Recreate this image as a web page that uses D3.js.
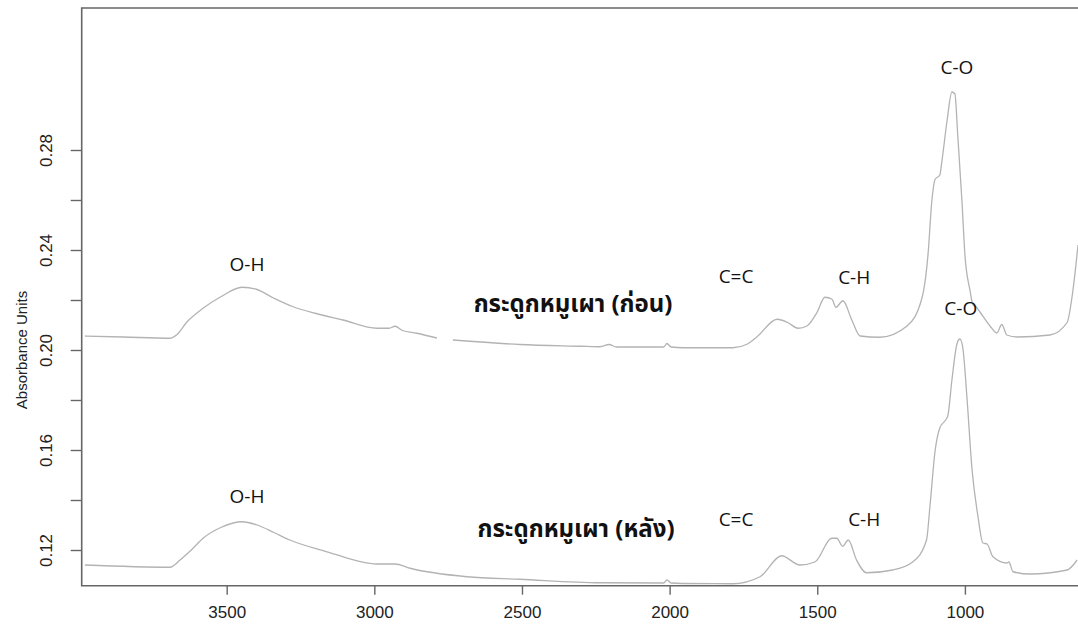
<!DOCTYPE html>
<meta charset="utf-8">
<html>
  <head>
    <style>
     body { margin: 0; background: #fff; }
     .axis path, .axis line { stroke: #666; stroke-width: 1.4px; }
     .axis text { font-family: "Liberation Sans", Arial, sans-serif; font-size: 17px; fill: #222; }
     text.ylab { font-family: "Liberation Sans", Arial, sans-serif; font-size: 15px; fill: #222; }
     path.spec { fill: none; stroke: #b3b3b3; stroke-width: 1.3px; }
     text.peak { font-family: "Open Sans", "Noto Sans", sans-serif; font-size: 19px; fill: #111; }
     text.sample { font-family: "Noto Sans Thai", "Noto Sans Thai UI", "Loma", "Garuda", "Noto Sans", sans-serif; font-size: 24px; font-weight: bold; fill: #111; }
    </style>
    <script src="https://d3js.org/d3.v7.min.js"></script>
  </head>
  <body>
    <div id="chart"></div>
    <script type="text/javascript">
     // spectrum before firing: [wavenumber, absorbance]; null marks the small gap in the trace
     var spectrumBefore = [
       [3980, 0.2056], [3850, 0.2052], [3692, 0.2047], [3670, 0.2060], [3634, 0.2113],
       [3580, 0.2167], [3520, 0.2213], [3448, 0.2251], [3400, 0.2243], [3340, 0.2207],
       [3275, 0.2173], [3200, 0.2147], [3106, 0.2120], [2991, 0.2087], [2950, 0.2087],
       [2930, 0.2095], [2905, 0.2078], [2856, 0.2067], [2788, 0.2048],
       null,
       [2734, 0.2040], [2507, 0.2022], [2300, 0.2015], [2236, 0.2013], [2205, 0.2022],
       [2180, 0.2012], [2020, 0.2012], [2009, 0.2026], [1995, 0.2012], [1955, 0.2009],
       [1786, 0.2009], [1740, 0.2022], [1704, 0.2053], [1636, 0.2123], [1600, 0.2110],
       [1565, 0.2087], [1535, 0.2096], [1501, 0.2150], [1474, 0.2211], [1450, 0.2203],
       [1437, 0.2171], [1413, 0.2197], [1383, 0.2120], [1355, 0.2056], [1288, 0.2051],
       [1196, 0.2096], [1145, 0.2210], [1125, 0.2381], [1112, 0.2596], [1101, 0.2682],
       [1085, 0.2700], [1078, 0.2754], [1061, 0.2912], [1044, 0.3032], [1034, 0.3025],
       [1024, 0.2854], [1010, 0.2596], [1000, 0.2381], [983, 0.2240], [973, 0.2181],
       [960, 0.2170], [949, 0.2152], [915, 0.2096], [892, 0.2068], [875, 0.2102],
       [858, 0.2060], [824, 0.2052], [712, 0.2060], [654, 0.2110], [634, 0.2240],
       [617, 0.2420]
     ];

     // spectrum after firing
     var spectrumAfter = [
       [3980, 0.1140], [3692, 0.1131], [3658, 0.1160], [3620, 0.1200], [3580, 0.1247],
       [3520, 0.1290], [3448, 0.1313], [3397, 0.1300], [3340, 0.1270], [3286, 0.1240],
       [3160, 0.1193], [2991, 0.1144], [2930, 0.1144], [2879, 0.1127], [2686, 0.1093],
       [2507, 0.1083], [2236, 0.1069], [2020, 0.1068], [2009, 0.1080], [1995, 0.1068],
       [1955, 0.1066], [1786, 0.1065], [1694, 0.1093], [1621, 0.1177], [1559, 0.1140],
       [1508, 0.1152], [1451, 0.1247], [1434, 0.1247], [1414, 0.1215], [1395, 0.1240],
       [1367, 0.1160], [1333, 0.1109], [1244, 0.1120], [1176, 0.1153], [1130, 0.1240],
       [1118, 0.1380], [1101, 0.1596], [1085, 0.1688], [1068, 0.1716], [1058, 0.1736],
       [1044, 0.1880], [1027, 0.2024], [1017, 0.2044], [1007, 0.2008], [993, 0.1808],
       [976, 0.1524], [956, 0.1336], [939, 0.1228], [925, 0.1224], [905, 0.1173],
       [858, 0.1148], [851, 0.1152], [837, 0.1113], [780, 0.1104], [654, 0.1120],
       [620, 0.1160]
     ];

     var xTicks = [3500, 3000, 2500, 2000, 1500, 1000];
     var yTicks = [0.12, 0.14, 0.16, 0.18, 0.20, 0.22, 0.24, 0.26, 0.28];
     var yLabelled = [0.12, 0.16, 0.20, 0.24, 0.28];

     // annotations: text, wavenumber, absorbance (centre of the text)
     var peakLabels = [
       ["C-O", 1027, 0.3132], ["C-O", 1014, 0.2168],
       ["O-H", 3431, 0.2344], ["O-H", 3431, 0.1416],
       ["C=C", 1775, 0.2296], ["C-H", 1375, 0.2292],
       ["C=C", 1775, 0.1324], ["C-H", 1341, 0.1324]
     ];
     var sampleLabels = [
       ["กระดูกหมูเผา (ก่อน)", 2327, 0.2184],
       ["กระดูกหมูเผา (หลัง)", 2317, 0.1284]
     ];

     var W = 1078, H = 626,
         mLeft = 81.7, mTop = 8, mBottom = 585.7;

     var x = d3.scaleLinear().domain([3991, 617]).range([mLeft, W]);
     var y = d3.scaleLinear().domain([0.12, 0.28]).range([550, 150]);

     var svg = d3.select("#chart").append("svg")
                 .attr("width", W)
                 .attr("height", H);

     svg.append("rect").attr("width", W).attr("height", H).attr("fill", "#fff");

     svg.append("clipPath").attr("id", "plotclip")
        .append("rect")
        .attr("x", mLeft).attr("y", mTop)
        .attr("width", W - mLeft).attr("height", mBottom - mTop);

     var line = d3.line()
                  .defined(function (d) { return d !== null; })
                  .x(function (d) { return x(d[0]); })
                  .y(function (d) { return y(d[1]); })
                  .curve(d3.curveMonotoneX);

     var plot = svg.append("g").attr("clip-path", "url(#plotclip)");
     [spectrumBefore, spectrumAfter].forEach(function (s) {
       plot.append("path").attr("class", "spec").attr("d", line(s));
     });

     // frame (right side runs off the picture)
     svg.append("path")
        .attr("d", "M" + (W + 5) + "," + mTop + "H" + mLeft + "V" + mBottom + "H" + (W + 5))
        .attr("fill", "none")
        .attr("stroke", "#666")
        .attr("stroke-width", 1.6);

     var xAxis = svg.append("g")
                    .attr("class", "axis")
                    .attr("transform", "translate(0," + mBottom + ")")
                    .call(d3.axisBottom(x).tickValues(xTicks).tickSize(9).tickSizeOuter(0).tickPadding(11)
                            .tickFormat(d3.format("d")));
     xAxis.select(".domain").remove();

     var yAxis = svg.append("g")
                    .attr("class", "axis")
                    .attr("transform", "translate(" + mLeft + ",0)")
                    .call(d3.axisLeft(y).tickValues(yTicks).tickSize(11).tickSizeOuter(0)
                            .tickFormat(function (d) {
                              return yLabelled.some(function (v) { return Math.abs(v - d) < 1e-9; }) ? d3.format(".2f")(d) : "";
                            }));
     yAxis.select(".domain").remove();
     yAxis.selectAll(".tick text")
          .attr("transform", "translate(-36,0) rotate(-90)")
          .attr("x", 0).attr("dy", "0.35em")
          .style("text-anchor", "middle");

     svg.append("text")
        .attr("class", "ylab")
        .attr("transform", "translate(22," + y(0.2) + ") rotate(-90)")
        .attr("dy", "0.35em")
        .style("text-anchor", "middle")
        .text("Absorbance Units");

     svg.selectAll(".peak")
        .data(peakLabels)
        .enter().append("text")
        .attr("class", "peak")
        .attr("x", function (d) { return x(d[1]); })
        .attr("y", function (d) { return y(d[2]); })
        .attr("dy", "0.35em")
        .style("text-anchor", "middle")
        .text(function (d) { return d[0]; });

     svg.selectAll(".sample")
        .data(sampleLabels)
        .enter().append("text")
        .attr("class", "sample")
        .attr("x", function (d) { return x(d[1]); })
        .attr("y", function (d) { return y(d[2]); })
        .attr("dy", "0.35em")
        .style("text-anchor", "middle")
        .text(function (d) { return d[0]; });
    </script>
  </body>
</html>
